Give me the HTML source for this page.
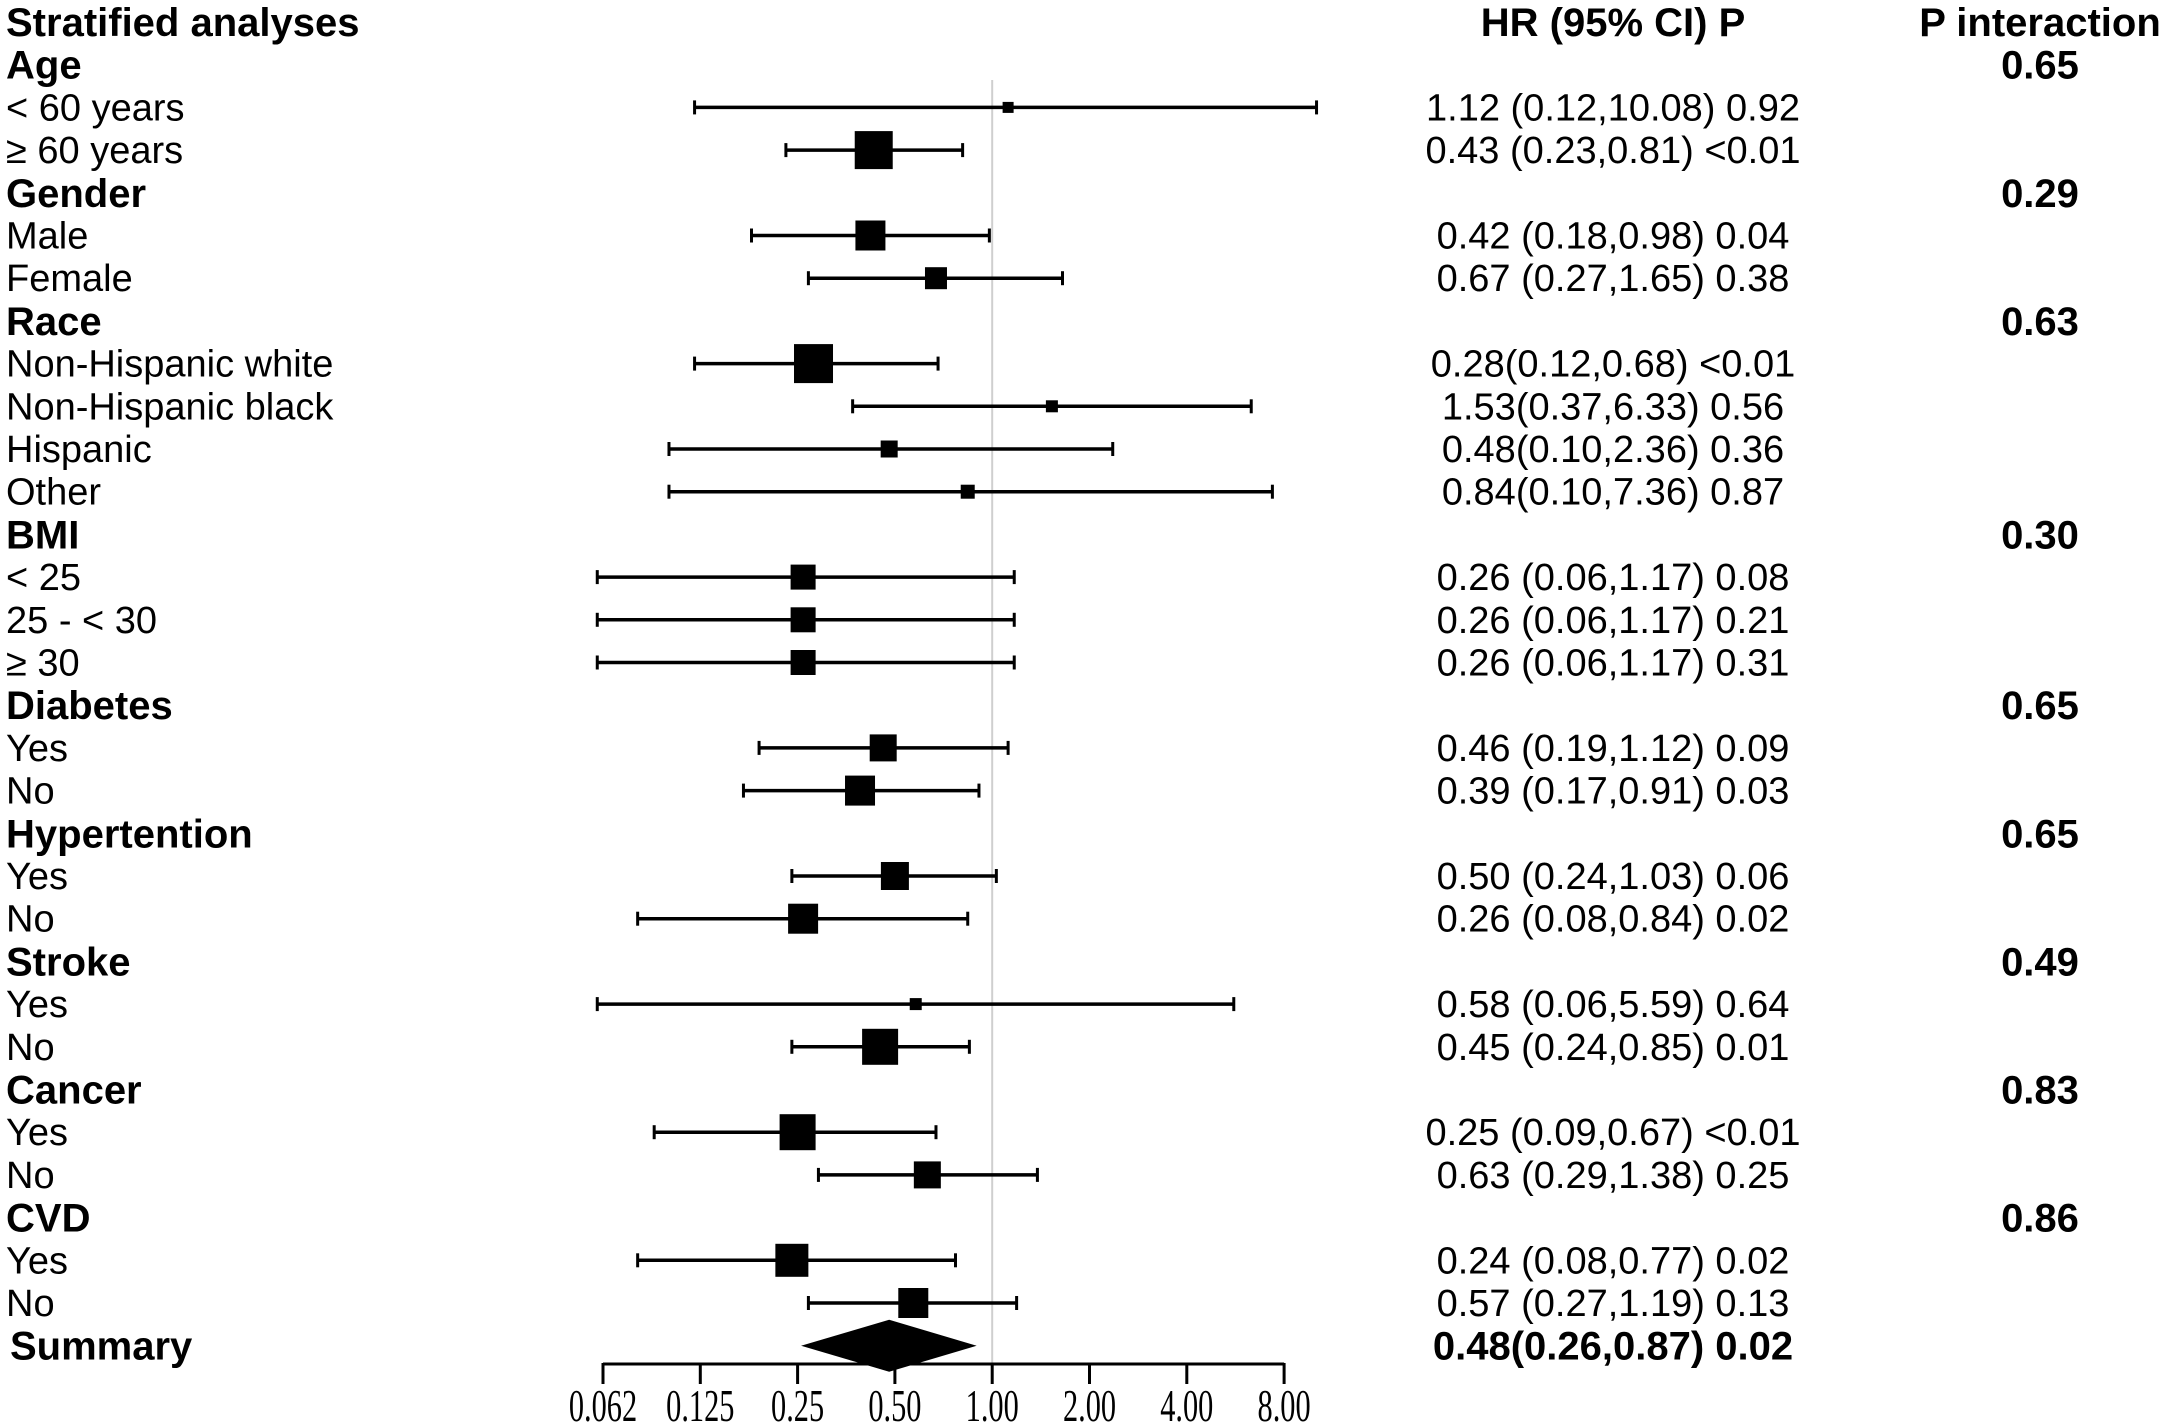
<!DOCTYPE html>
<html><head><meta charset="utf-8"><style>
html,body{margin:0;padding:0;background:#fff;}
svg{display:block;}
text{fill:#000;}
.lab{font-family:"Liberation Sans",sans-serif;font-size:38px;}
.hd{font-family:"Liberation Sans",sans-serif;font-size:40px;font-weight:bold;}
.tk{font-family:"Liberation Serif",serif;font-size:46px;}
</style></head><body>
<svg id="chart" width="2171" height="1425" viewBox="0 0 2171 1425" xmlns="http://www.w3.org/2000/svg"></svg>
<script>
const rowLabels = ["Age","< 60 years","≥ 60 years","Gender","Male","Female","Race","Non-Hispanic white","Non-Hispanic black","Hispanic","Other","BMI","< 25","25 - < 30","≥ 30","Diabetes","Yes","No","Hypertention","Yes","No","Stroke","Yes","No","Cancer","Yes","No","CVD","Yes","No"];
const isHeader = [1,0,0,1,0,0,1,0,0,0,0,1,0,0,0,1,0,0,1,0,0,1,0,0,1,0,0,1,0,0];
const hrValues = [null,1.12,0.43,null,0.42,0.67,null,0.28,1.53,0.48,0.84,null,0.26,0.26,0.26,null,0.46,0.39,null,0.50,0.26,null,0.58,0.45,null,0.25,0.63,null,0.24,0.57];
const loValues = [null,0.12,0.23,null,0.18,0.27,null,0.12,0.37,0.10,0.10,null,0.06,0.06,0.06,null,0.19,0.17,null,0.24,0.08,null,0.06,0.24,null,0.09,0.29,null,0.08,0.27];
const hiValues = [null,10.08,0.81,null,0.98,1.65,null,0.68,6.33,2.36,7.36,null,1.17,1.17,1.17,null,1.12,0.91,null,1.03,0.84,null,5.59,0.85,null,0.67,1.38,null,0.77,1.19];
const boxWeights = [null,11,38,null,30,22,null,39,12,17,14,null,25,25,25,null,27,30,null,28,30,null,12,36,null,36,27,null,33,30];
const hrText = [null,"1.12 (0.12,10.08) 0.92","0.43 (0.23,0.81) <0.01",null,"0.42 (0.18,0.98) 0.04","0.67 (0.27,1.65) 0.38",null,"0.28(0.12,0.68) <0.01","1.53(0.37,6.33) 0.56","0.48(0.10,2.36) 0.36","0.84(0.10,7.36) 0.87",null,"0.26 (0.06,1.17) 0.08","0.26 (0.06,1.17) 0.21","0.26 (0.06,1.17) 0.31",null,"0.46 (0.19,1.12) 0.09","0.39 (0.17,0.91) 0.03",null,"0.50 (0.24,1.03) 0.06","0.26 (0.08,0.84) 0.02",null,"0.58 (0.06,5.59) 0.64","0.45 (0.24,0.85) 0.01",null,"0.25 (0.09,0.67) <0.01","0.63 (0.29,1.38) 0.25",null,"0.24 (0.08,0.77) 0.02","0.57 (0.27,1.19) 0.13"];
const pInteraction = ["0.65",null,null,"0.29",null,null,"0.63",null,null,null,null,"0.30",null,null,null,"0.65",null,null,"0.65",null,null,"0.49",null,null,"0.83",null,null,"0.86",null,null];
const summaryHR = 0.48, summaryLo = 0.26, summaryHi = 0.87;
const summaryText = "0.48(0.26,0.87) 0.02";
const tickValues = [0.0625,0.125,0.25,0.5,1,2,4,8];
const tickLabels = ["0.062","0.125","0.25","0.50","1.00","2.00","4.00","8.00"];

const NS = "http://www.w3.org/2000/svg";
const svg = document.getElementById("chart");
const X0 = 603, STEP = 97.3;
function xScale(v){ return X0 + STEP * Math.log2(v / 0.0625); }
function yRow(i){ return 22 + i * 42.7; }
function mk(tag, attrs, parent){ const e = document.createElementNS(NS, tag); for (const k in attrs) e.setAttribute(k, attrs[k]); (parent||svg).appendChild(e); return e; }
function txt(str, x, y, cls, anchor){ const t = mk("text", {x:x, y:y, class:cls, "text-anchor":anchor||"start"}); t.textContent = str; return t; }

const ref = mk("line", {x1:xScale(1), x2:xScale(1), y1:80, y2:1364, stroke:"#cfcfcf", "stroke-width":2});



let t = txt("Stratified analyses", 6, yRow(0)+14, "hd");


t = txt("HR (95% CI) P", 1613, yRow(0)+14, "hd", "middle");


t = txt("P interaction", 2040, yRow(0)+14, "hd", "middle");



for (let i = 0; i < rowLabels.length; i++) {
  const r = i + 1;
  const cy = yRow(r);
  if (isHeader[i]) {
    const h = txt(rowLabels[i], 6, cy+14, "hd");
    
    
    if (pInteraction[i]) {
      const p = txt(pInteraction[i], 2040, cy+14, "hd", "middle");
      
      
    }
    continue;
  }
  const l = txt(rowLabels[i], 6, cy+13, "lab");
  
  
  const v = txt(hrText[i], 1613, cy+13, "lab", "middle");
  
  
  const x1 = xScale(loValues[i]), x2 = xScale(hiValues[i]), xm = xScale(hrValues[i]);
  const g = mk("g", {});
  
  
  const ln = mk("line", {x1:x1, x2:x2, y1:cy, y2:cy, stroke:"#000", "stroke-width":3.5}, g);
  
  
  const c1 = mk("line", {x1:x1, x2:x1, y1:cy-7, y2:cy+7, stroke:"#000", "stroke-width":3}, g);
  
  
  const c2 = mk("line", {x1:x2, x2:x2, y1:cy-7, y2:cy+7, stroke:"#000", "stroke-width":3}, g);
  
  
  const s = boxWeights[i];
  const b = mk("rect", {x:xm-s/2, y:cy-s/2, width:s, height:s, fill:"#000"}, g);
  
  
}

const sy = yRow(31);
t = txt("Summary", 10, sy+14, "hd");


t = txt(summaryText, 1613, sy+14, "hd", "middle");


const dm = mk("polygon", {points:[(xScale(summaryLo)-2)+","+sy, xScale(summaryHR)+","+(sy-26), (xScale(summaryHi)+4)+","+sy, xScale(summaryHR)+","+(sy+26)].join(" "), fill:"#000"});



const ax = mk("line", {x1:xScale(tickValues[0]), x2:xScale(tickValues[tickValues.length-1]), y1:1364, y2:1364, stroke:"#000", "stroke-width":3});


for (let k = 0; k < tickValues.length; k++) {
  const x = xScale(tickValues[k]);
  const tk = mk("line", {x1:x, x2:x, y1:1363, y2:1384, stroke:"#000", "stroke-width":3});
  
  
  const lab = tickLabels[k];
  const w = 0.66*46*(0.5*lab.replace(".","").length + 0.25);
  const tl = mk("text", {x:x, y:1421, class:"tk", "text-anchor":"middle", textLength:w.toFixed(1), lengthAdjust:"spacingAndGlyphs"});
  tl.textContent = lab;
  
  
}
</script>
</body></html>
